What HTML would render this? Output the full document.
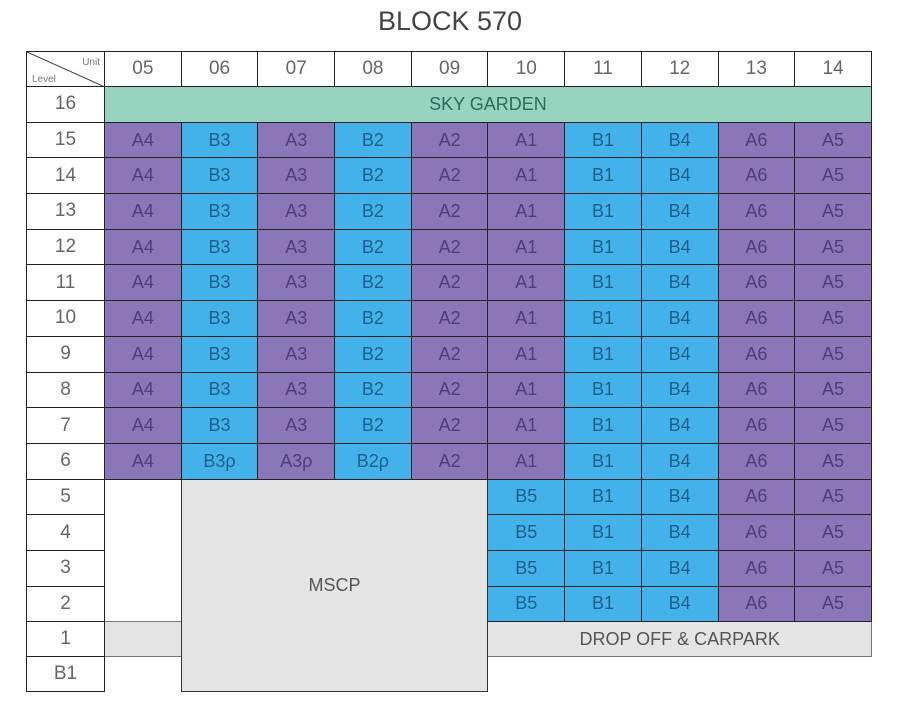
<!DOCTYPE html>
<html><head><meta charset="utf-8"><style>
body{margin:0;width:900px;height:717px;background:#fff;position:relative;font-family:"Liberation Sans",sans-serif;overflow:hidden}
.t{position:absolute;left:0;top:6px;width:900px;text-align:center;font-size:27px;color:#444;letter-spacing:0px;font-weight:300}
table{position:absolute;left:26px;top:51px;border-collapse:collapse;table-layout:fixed}
td{border:1.5px solid #222;text-align:center;font-size:18px;padding:0;height:34px;color:#555}
td.l{width:77px;background:#fff;color:#666;font-size:19px}
td.p{background:#8a76b8;color:#4d3f7a}
td.b{background:#44b2ea;color:#1f5f8c}
td.h{background:#fff;color:#666;font-size:19px}
td.g{background:#96d4c0;color:#2f6a5a}
td.e{border:none;background:#fff}
td.el{border:none;border-left:1.5px solid #222;background:#fff}
td.gr{background:#e4e4e4;color:#555;border:1.5px solid #777}
col.c{width:76.7px}
</style></head><body>
<div class="t">BLOCK 570</div>
<table>
<colgroup><col style="width:78px"><col class="c"><col class="c"><col class="c"><col class="c"><col class="c"><col class="c"><col class="c"><col class="c"><col class="c"><col class="c"></colgroup>
<tr style="height:35px"><td class="l" style="position:relative;font-size:10px">
<svg width="78" height="35" style="position:absolute;left:0;top:0"><line x1="0" y1="0" x2="78" y2="35" stroke="#333" stroke-width="1"/><text x="73" y="13" font-size="10" text-anchor="end" fill="#777" font-family="Liberation Sans">Unit</text><text x="5" y="30" font-size="10" fill="#777" font-family="Liberation Sans">Level</text></svg></td>
<td class="h">05</td><td class="h">06</td><td class="h">07</td><td class="h">08</td><td class="h">09</td><td class="h">10</td><td class="h">11</td><td class="h">12</td><td class="h">13</td><td class="h">14</td></tr>
<tr style="height:35.7px"><td class="l">16</td><td class="g" colspan="10">SKY GARDEN</td></tr>
<tr style="height:35.7px"><td class="l">15</td><td class="p">A4</td><td class="b">B3</td><td class="p">A3</td><td class="b">B2</td><td class="p">A2</td><td class="p">A1</td><td class="b">B1</td><td class="b">B4</td><td class="p">A6</td><td class="p">A5</td></tr>
<tr style="height:35.7px"><td class="l">14</td><td class="p">A4</td><td class="b">B3</td><td class="p">A3</td><td class="b">B2</td><td class="p">A2</td><td class="p">A1</td><td class="b">B1</td><td class="b">B4</td><td class="p">A6</td><td class="p">A5</td></tr>
<tr style="height:35.7px"><td class="l">13</td><td class="p">A4</td><td class="b">B3</td><td class="p">A3</td><td class="b">B2</td><td class="p">A2</td><td class="p">A1</td><td class="b">B1</td><td class="b">B4</td><td class="p">A6</td><td class="p">A5</td></tr>
<tr style="height:35.7px"><td class="l">12</td><td class="p">A4</td><td class="b">B3</td><td class="p">A3</td><td class="b">B2</td><td class="p">A2</td><td class="p">A1</td><td class="b">B1</td><td class="b">B4</td><td class="p">A6</td><td class="p">A5</td></tr>
<tr style="height:35.7px"><td class="l">11</td><td class="p">A4</td><td class="b">B3</td><td class="p">A3</td><td class="b">B2</td><td class="p">A2</td><td class="p">A1</td><td class="b">B1</td><td class="b">B4</td><td class="p">A6</td><td class="p">A5</td></tr>
<tr style="height:35.7px"><td class="l">10</td><td class="p">A4</td><td class="b">B3</td><td class="p">A3</td><td class="b">B2</td><td class="p">A2</td><td class="p">A1</td><td class="b">B1</td><td class="b">B4</td><td class="p">A6</td><td class="p">A5</td></tr>
<tr style="height:35.7px"><td class="l">9</td><td class="p">A4</td><td class="b">B3</td><td class="p">A3</td><td class="b">B2</td><td class="p">A2</td><td class="p">A1</td><td class="b">B1</td><td class="b">B4</td><td class="p">A6</td><td class="p">A5</td></tr>
<tr style="height:35.7px"><td class="l">8</td><td class="p">A4</td><td class="b">B3</td><td class="p">A3</td><td class="b">B2</td><td class="p">A2</td><td class="p">A1</td><td class="b">B1</td><td class="b">B4</td><td class="p">A6</td><td class="p">A5</td></tr>
<tr style="height:35.7px"><td class="l">7</td><td class="p">A4</td><td class="b">B3</td><td class="p">A3</td><td class="b">B2</td><td class="p">A2</td><td class="p">A1</td><td class="b">B1</td><td class="b">B4</td><td class="p">A6</td><td class="p">A5</td></tr>
<tr style="height:35.7px"><td class="l">6</td><td class="p">A4</td><td class="b">B3ρ</td><td class="p">A3ρ</td><td class="b">B2ρ</td><td class="p">A2</td><td class="p">A1</td><td class="b">B1</td><td class="b">B4</td><td class="p">A6</td><td class="p">A5</td></tr>
<tr style="height:35.7px"><td class="l">5</td><td class="e" rowspan="4"></td><td class="gr" colspan="4" rowspan="6" style="border-color:#333">MSCP</td><td class="b">B5</td><td class="b">B1</td><td class="b">B4</td><td class="p">A6</td><td class="p">A5</td></tr>
<tr style="height:35.7px"><td class="l">4</td><td class="b">B5</td><td class="b">B1</td><td class="b">B4</td><td class="p">A6</td><td class="p">A5</td></tr>
<tr style="height:35.7px"><td class="l">3</td><td class="b">B5</td><td class="b">B1</td><td class="b">B4</td><td class="p">A6</td><td class="p">A5</td></tr>
<tr style="height:35.7px"><td class="l">2</td><td class="b">B5</td><td class="b">B1</td><td class="b">B4</td><td class="p">A6</td><td class="p">A5</td></tr>
<tr style="height:33px"><td class="l">1</td><td class="gr"></td><td class="gr" colspan="5">DROP OFF &amp; CARPARK</td></tr>
<tr style="height:35px"><td class="l">B1</td><td class="e"></td><td class="e" colspan="5"></td></tr>
</table>
</body></html>
